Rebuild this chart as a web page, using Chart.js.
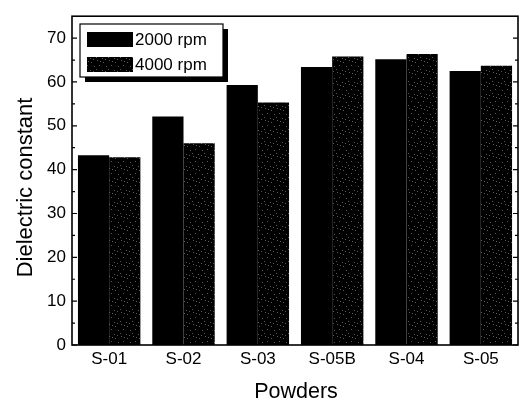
<!DOCTYPE html>
<html><head><meta charset="utf-8">
<script src="https://cdn.jsdelivr.net/npm/chart.js@4/dist/chart.umd.min.js"></script>
<style>html,body{margin:0;padding:0;background:#fff}#wrap{width:519px;height:401px}</style>
</head><body><div id="wrap"><canvas id="c" width="519" height="401"></canvas></div>
<script>
const categories = ['S-01', 'S-02', 'S-03', 'S-05B', 'S-04', 'S-05'];
const rpm2000 = [43.3, 52.1, 59.3, 63.4, 65.2, 62.5];
const rpm4000 = [42.8, 46.0, 55.3, 65.8, 66.4, 63.7];
const seriesLabels = ['2000 rpm', '4000 rpm'];
const yTicks = [0, 10, 20, 30, 40, 50, 60, 70];
const yMinorTicks = [5, 15, 25, 35, 45, 55, 65];
const xTitle = 'Powders';
const yTitle = 'Dielectric constant';

const FONT = '"Liberation Sans", Arial, sans-serif';

function makePattern() {
  const p = document.createElement('canvas');
  p.width = 12; p.height = 12;
  const g = p.getContext('2d');
  g.fillStyle = '#000'; g.fillRect(0, 0, 12, 12);
  g.fillStyle = '#5a5a5a';
  [[1,0],[7,2],[3,5],[10,6],[0,9],[6,10],[9,11],[4,1]].forEach(([x,y]) => g.fillRect(x, y, 1, 1));
  return g.createPattern(p, 'repeat');
}
const speckle = makePattern();

const framePlugin = {
  id: 'frame',
  afterDatasetsDraw(chart) {
    const ctx = chart.ctx, a = chart.chartArea, y = chart.scales.y;
    ctx.save();
    ctx.strokeStyle = '#000';
    ctx.lineWidth = 1.6;
    ctx.strokeRect(a.left, a.top, a.right - a.left, a.bottom - a.top);
    ctx.lineWidth = 1.2;
    ctx.beginPath();
    yTicks.forEach(v => {
      const py = y.getPixelForValue(v);
      ctx.moveTo(a.left, py); ctx.lineTo(a.left + 5, py);
      ctx.moveTo(a.right, py); ctx.lineTo(a.right - 5, py);
    });
    yMinorTicks.forEach(v => {
      const py = y.getPixelForValue(v);
      ctx.moveTo(a.left, py); ctx.lineTo(a.left + 3, py);
      ctx.moveTo(a.right, py); ctx.lineTo(a.right - 3, py);
    });
    ctx.stroke();
    ctx.restore();
  },
  afterDraw(chart) {
    const ctx = chart.ctx, a = chart.chartArea;
    ctx.save();
    ctx.fillStyle = '#000';
    ctx.font = '21.5px ' + FONT;
    ctx.textAlign = 'center';
    ctx.textBaseline = 'alphabetic';
    ctx.fillText(xTitle, (a.left + a.right) / 2 + 1, 398);
    ctx.save();
    ctx.font = '22px ' + FONT;
    ctx.translate(32, 187.5);
    ctx.rotate(-Math.PI / 2);
    ctx.fillText(yTitle, 0, 0);
    ctx.restore();
    const bx = 80, by = 24, bw = 143, bh = 53;
    ctx.fillStyle = '#000';
    ctx.fillRect(bx + 5, by + 5, bw, bh);
    ctx.fillStyle = '#fff';
    ctx.fillRect(bx, by, bw, bh);
    ctx.strokeStyle = '#000';
    ctx.lineWidth = 1.2;
    ctx.strokeRect(bx, by, bw, bh);
    ctx.font = '17px ' + FONT;
    ctx.textAlign = 'left';
    ctx.textBaseline = 'middle';
    chart.data.datasets.forEach((ds, i) => {
      const sy = 32 + i * 25;
      ctx.fillStyle = ds.backgroundColor;
      ctx.fillRect(87, sy, 46, 15);
      ctx.fillStyle = '#000';
      ctx.fillText(ds.label, 135, sy + 8);
    });
    ctx.restore();
  }
};

new Chart(document.getElementById('c'), {
  type: 'bar',
  data: {
    labels: categories,
    datasets: [
      { label: seriesLabels[0], data: rpm2000, backgroundColor: '#000', borderWidth: 0,
        categoryPercentage: 0.84, barPercentage: 1 },
      { label: seriesLabels[1], data: rpm4000, backgroundColor: speckle, borderWidth: 0,
        categoryPercentage: 0.84, barPercentage: 1 }
    ]
  },
  options: {
    responsive: false,
    animation: false,
    devicePixelRatio: 1,
    layout: { padding: { top: 13, right: 1, left: 0, bottom: 0 } },
    plugins: { legend: { display: false }, tooltip: { enabled: false } },
    scales: {
      x: {
        grid: { display: false, drawTicks: false },
        border: { display: false },
        ticks: { color: '#000', font: { family: FONT, size: 17 }, padding: 4, maxRotation: 0 },
        afterFit(s) { s.height = 56; }
      },
      y: {
        min: 0, max: 75,
        grid: { display: false, drawTicks: false },
        border: { display: false },
        afterBuildTicks(s) { s.ticks = yTicks.map(v => ({ value: v })); },
        ticks: { color: '#000', font: { family: FONT, size: 17 }, padding: 6 },
        afterFit(s) { s.width = 72; }
      }
    }
  },
  plugins: [framePlugin]
});
</script>
</body></html>
